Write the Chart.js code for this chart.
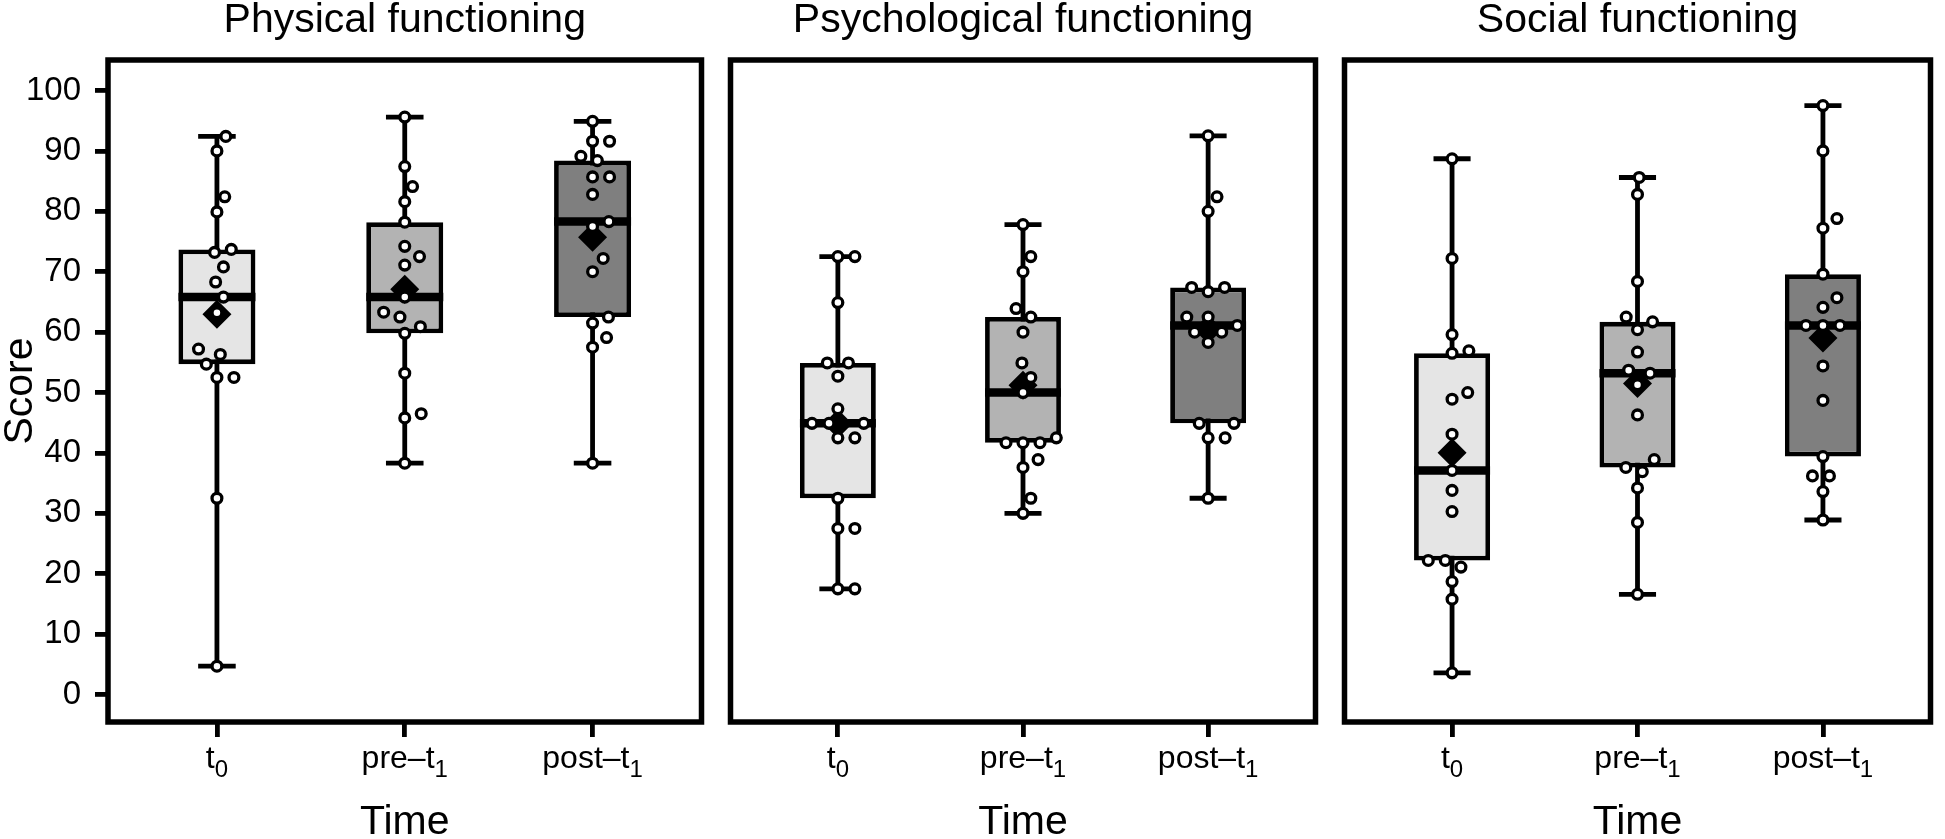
<!DOCTYPE html>
<html>
<head>
<meta charset="utf-8">
<script src="https://cdn.jsdelivr.net/npm/chart.js@4.4.1/dist/chart.umd.min.js"></script>
<style>
  html, body { margin: 0; padding: 0; background: #fff; }
  #wrap { position: relative; width: 1945px; height: 839px; overflow: hidden; }
  canvas { position: absolute; top: 0; }
</style>
</head>
<body>
<div id="wrap">
  <canvas id="panel-0" width="716" height="839" style="left:0px"></canvas>
  <canvas id="panel-1" width="614" height="839" style="left:716px"></canvas>
  <canvas id="panel-2" width="615" height="839" style="left:1330px"></canvas>
</div>
<script>
// ---- data (scores, 17 patients per time point) ----
const timeLabels = ['t₀', 'pre–t₁', 'post–t₁'];
const panelTitles = ['Physical functioning', 'Psychological functioning', 'Social functioning'];
const yTickValues = [0, 10, 20, 30, 40, 50, 60, 70, 80, 90, 100];

const physicalT0 = [92.4, 90.0, 82.4, 79.9, 73.7, 73.2, 70.8, 68.3, 65.8, 63.2, 57.2, 56.3, 54.7, 52.5, 52.5, 32.5, 4.7];
const physicalPre = [95.6, 87.4, 84.1, 81.6, 78.2, 74.2, 72.5, 71.1, 65.8, 63.3, 62.5, 60.9, 59.8, 53.2, 46.5, 45.8, 38.3];
const physicalPost = [94.9, 91.6, 91.6, 89.1, 88.4, 85.7, 85.7, 82.8, 78.3, 77.5, 72.2, 70.0, 62.5, 61.5, 59.1, 57.5, 38.3];

const psychT0 = [72.5, 72.5, 64.9, 54.9, 54.9, 52.7, 47.3, 44.9, 44.9, 44.9, 42.5, 42.5, 32.5, 27.5, 27.5, 17.5, 17.5];
const psychPre = [77.8, 72.5, 70.0, 63.9, 62.5, 60.0, 54.9, 52.5, 50.0, 42.5, 41.7, 41.7, 41.7, 38.9, 37.6, 32.5, 30.0];
const psychPost = [92.5, 82.4, 80.0, 67.4, 67.4, 66.7, 62.5, 62.5, 61.1, 60.0, 60.0, 58.3, 44.9, 44.9, 42.5, 42.5, 32.5];

const socialT0 = [88.7, 72.2, 59.6, 56.9, 56.5, 50.0, 48.9, 43.1, 37.1, 33.8, 30.3, 22.2, 22.2, 21.1, 18.7, 15.8, 3.6];
const socialPre = [85.6, 82.8, 68.4, 62.5, 61.7, 60.4, 56.7, 53.7, 53.2, 51.3, 46.3, 38.9, 37.6, 36.9, 34.2, 28.5, 16.6];
const socialPost = [97.5, 90.0, 78.8, 77.2, 69.6, 65.7, 64.1, 61.1, 61.1, 61.1, 54.4, 48.7, 39.4, 36.2, 36.2, 33.6, 28.9];

const panels = [
  [physicalT0, physicalPre, physicalPost],
  [psychT0, psychPre, psychPost],
  [socialT0, socialPre, socialPost]
];

// ---- styling ----
const FONT = "'Liberation Sans', Arial, Helvetica, sans-serif";
const boxFills = ['#e5e5e5', '#b3b3b3', '#7f7f7f'];
const canvasPad = [{ left: 0, right: 9 }, { left: 8, right: 7 }, { left: 11, right: 6 }];
const DOT_GAP = 17; // px between dot centres in the swarm
const LINE = 4.8;

Chart.defaults.font.family = FONT;
Chart.defaults.color = '#000';

// type 7 quantile, same as R / ggplot
function quantile(sorted, p) {
    const h = (sorted.length - 1) * p;
    const lo = Math.floor(h);
    const hi = Math.min(lo + 1, sorted.length - 1);
    return sorted[lo] + (h - lo) * (sorted[hi] - sorted[lo]);
}

function boxStats(values) {
    const s = [...values].sort((a, b) => a - b);
    return {
        min: s[0], max: s[s.length - 1],
        q1: quantile(s, 0.25), med: quantile(s, 0.5), q3: quantile(s, 0.75),
        mean: s.reduce((a, b) => a + b, 0) / s.length
    };
}

function segment(x1, y1, x2, y2, width, order) {
    return {
        type: 'line', data: [{ x: x1, y: y1 }, { x: x2, y: y2 }],
        borderColor: '#000', borderWidth: width, borderCapStyle: 'butt',
        pointRadius: 0, pointHoverRadius: 0, fill: false, order
    };
}

// beeswarm style placement (ascending priority), done in pixel space via the chart's scales
function swarmOffsets(values, chart) {
    const xs = chart.scales.x, ys = chart.scales.y;
    const idx = values.map((_, i) => i).sort((a, b) => values[a] - values[b]);
    const placed = [];
    const out = new Array(values.length).fill(0);
    idx.forEach(i => {
        const py = ys.getPixelForValue(values[i]);
        const near = placed.filter(p => Math.abs(p.y - py) < DOT_GAP);
        const cands = [0];
        near.forEach(p => cands.push(p.x + Math.sqrt(DOT_GAP ** 2 - (p.y - py) ** 2)));
        near.forEach(p => cands.push(p.x - Math.sqrt(DOT_GAP ** 2 - (p.y - py) ** 2)));
        let best = Infinity;
        cands.forEach(c => {
            const ok = near.every(p => Math.hypot(p.x - c, p.y - py) >= DOT_GAP - 0.01);
            if (ok && Math.abs(c) < Math.abs(best)) best = c;
        });
        placed.push({ x: best, y: py });
        out[i] = best;
    });
    const unit = xs.getPixelForValue(1) - xs.getPixelForValue(0);
    return out.map(o => o / unit);
}

const framePlugin = {
    id: 'frame',
    afterDraw(chart) {
        const { ctx, chartArea: a } = chart;
        ctx.save();
        ctx.strokeStyle = '#000';
        ctx.lineWidth = 5.5;
        ctx.strokeRect(a.left, a.top, a.right - a.left, a.bottom - a.top);
        ctx.restore();
    }
};

// x labels with a real subscript (t0, pre-t1, post-t1)
const SUBS = '₀₁₂₃₄₅₆₇₈₉';
function splitLabel(label) {
    let base = '', sub = '';
    for (const ch of label) {
        const k = SUBS.indexOf(ch);
        if (k >= 0) sub += String(k); else base += ch;
    }
    return { base, sub };
}
const timeLabelPlugin = {
    id: 'timeLabels',
    afterDraw(chart) {
        const { ctx } = chart;
        const xs = chart.scales.x;
        ctx.save();
        ctx.fillStyle = '#000';
        ctx.textBaseline = 'alphabetic';
        ctx.textAlign = 'left';
        timeLabels.forEach((lab, i) => {
            const { base, sub } = splitLabel(lab);
            ctx.font = `32px ${FONT}`;
            const wb = ctx.measureText(base).width;
            ctx.font = `24px ${FONT}`;
            const ws = ctx.measureText(sub).width;
            const x0 = xs.getPixelForValue(i) - (wb + ws) / 2;
            const y = xs.top + 46;
            ctx.font = `32px ${FONT}`;
            ctx.fillText(base, x0, y);
            ctx.font = `24px ${FONT}`;
            ctx.fillText(sub, x0 + wb, y + 9);
        });
        ctx.restore();
    }
};

function renderPanel(p) {
    const groups = panels[p];
    const stats = groups.map(boxStats);
    const datasets = [];

    stats.forEach((s, i) => {
        datasets.push(segment(i, s.min, i, s.max, LINE, 5));                 // whisker
        datasets.push(segment(i - 0.1, s.max, i + 0.1, s.max, LINE, 4));     // caps
        datasets.push(segment(i - 0.1, s.min, i + 0.1, s.min, LINE, 4));
        datasets.push(segment(i - 0.205, s.med, i + 0.205, s.med, 8.5, 2));  // median
    });

    datasets.push({
        type: 'bar',
        data: stats.map((s, i) => ({ x: i, y: [s.q1, s.q3] })),
        backgroundColor: boxFills, borderColor: '#000', borderWidth: LINE,
        borderSkipped: false, barPercentage: 0.41, categoryPercentage: 1, order: 3
    });

    datasets.push({
        type: 'scatter',
        data: stats.map((s, i) => ({ x: i, y: s.mean })),
        pointStyle: 'rectRot', pointRadius: 14.5, pointHoverRadius: 14.5,
        backgroundColor: '#000', borderWidth: 0, order: 1
    });

    const dots = {
        type: 'scatter',
        data: groups.flatMap((g, i) => g.map(v => ({ x: i, y: v }))),
        pointStyle: 'circle', pointRadius: 4.9, pointHoverRadius: 4.9,
        backgroundColor: '#fff', borderColor: '#000', borderWidth: 3.3, order: 0
    };
    datasets.push(dots);

    const first = p === 0;
    const chart = new Chart(document.getElementById('panel-' + p), {
        type: 'scatter',
        data: { datasets },
        options: {
            responsive: false, animation: false, devicePixelRatio: 1,
            layout: { padding: { top: 0, bottom: 0, left: canvasPad[p].left, right: canvasPad[p].right } },
            plugins: {
                legend: { display: false },
                tooltip: { enabled: false },
                title: {
                    display: true, text: panelTitles[p], fullSize: false, color: '#000',
                    font: { size: 41, weight: 'normal', lineHeight: 1 },
                    padding: { top: 0, bottom: 19 }
                }
            },
            scales: {
                x: {
                    type: 'linear', min: -0.58, max: 2.58, offset: false,
                    afterBuildTicks: s => { s.ticks = timeLabels.map((_, i) => ({ value: i })); },
                    afterFit: s => { s.height = 117; },
                    ticks: { display: false },
                    grid: { offset: false, drawOnChartArea: false, drawTicks: true, tickLength: 15, lineWidth: LINE, color: '#000' },
                    border: { display: false },
                    title: { display: true, text: 'Time', color: '#000', font: { size: 41, lineHeight: 0.8 }, padding: 0 }
                },
                y: {
                    type: 'linear', min: -4.54, max: 105.05, display: first,
                    afterBuildTicks: s => { s.ticks = yTickValues.map(v => ({ value: v })); },
                    afterFit: s => { if (first) s.width = 108; },
                    ticks: { font: { size: 33 }, color: '#000', padding: 14 },
                    grid: { offset: false, drawOnChartArea: false, drawTicks: true, tickLength: 13, lineWidth: LINE, color: '#000' },
                    border: { display: false },
                    title: { display: true, text: 'Score', color: '#000', font: { size: 41, lineHeight: 1 }, padding: 0 }
                }
            }
        },
        plugins: [framePlugin, timeLabelPlugin]
    });

    // spread the dots sideways now that the scales exist
    const offsets = groups.map(g => swarmOffsets(g, chart));
    dots.data = groups.flatMap((g, i) => g.map((v, k) => ({ x: i + offsets[i][k], y: v })));
    chart.update('none');
    return chart;
}

panels.forEach((_, p) => renderPanel(p));
</script>
</body>
</html>
